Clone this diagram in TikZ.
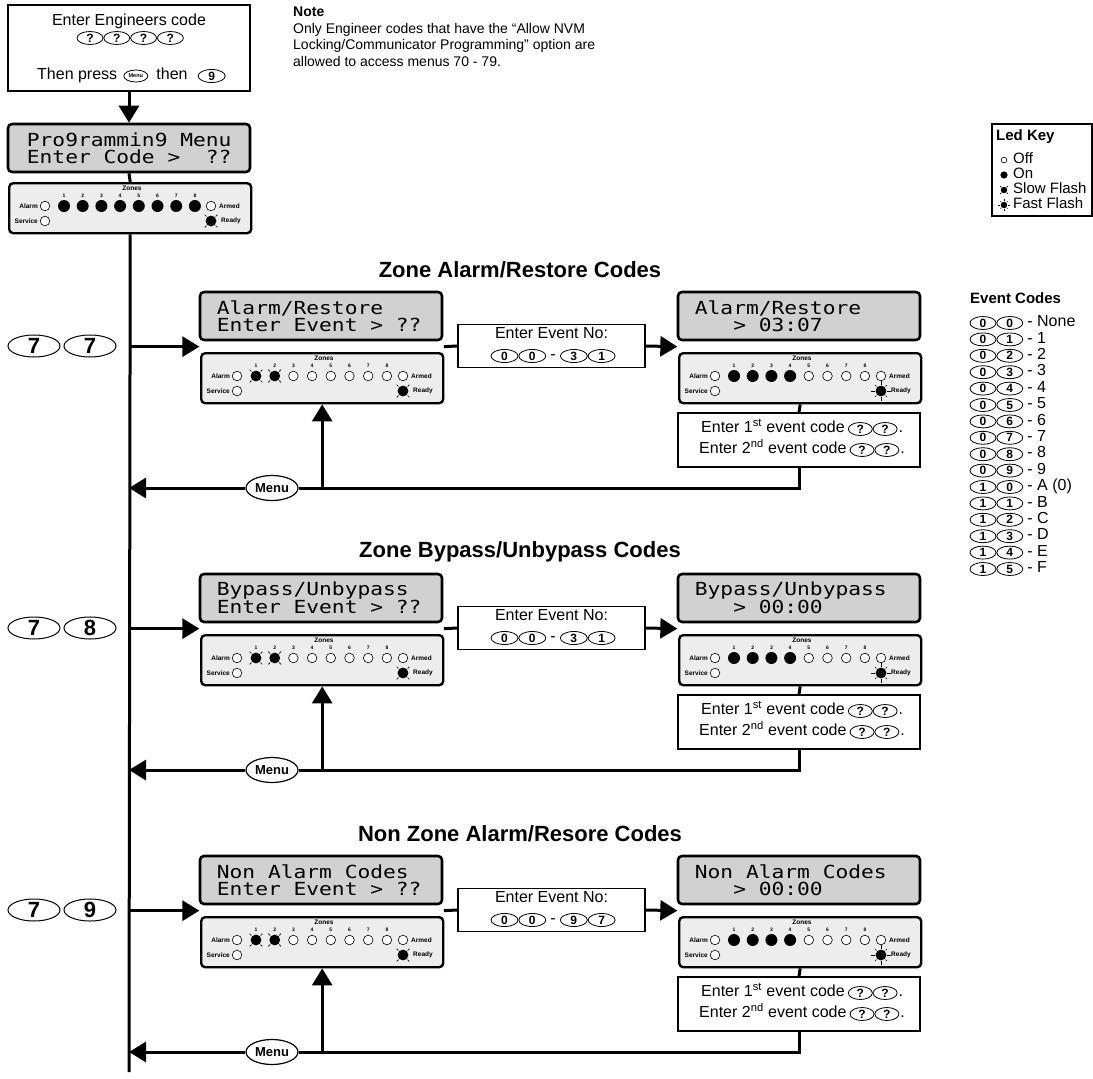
\documentclass[tikz,border=0pt]{standalone}
\usepackage{fontspec}
\setmainfont{Liberation Sans}
\setsansfont{Liberation Sans}
\setmonofont[FakeStretch=1.18]{DejaVu Sans Mono}
\usetikzlibrary{arrows.meta,positioning,shapes.geometric,calc}

\definecolor{lcdgrey}{gray}{0.82}
\definecolor{panelgrey}{gray}{0.93}

\newcommand{\fs}[1]{\fontsize{#1}{#1}\selectfont}

% LED symbols
\newcommand{\ledoff}[1]{\draw[line width=0.6pt, fill=white] #1 circle[radius=4.8pt];}
\newcommand{\ledon}[1]{\fill #1 circle[radius=6pt];}
\newcommand{\ledslow}[1]{%
  \fill #1 circle[radius=5.4pt];
  \foreach \rr in {45,135,225,315} {\draw[line width=0.7pt] #1 ++(\rr:6.4pt) -- ++(\rr:2.6pt);}}
\newcommand{\ledfast}[1]{%
  \fill #1 circle[radius=5.4pt];
  \foreach \rr in {0,90,180,270} {\draw[line width=0.8pt] #1 ++(\rr:6.4pt) -- ++(\rr:3.6pt);}
  \foreach \rr in {45,135,225,315} {\draw[line width=0.6pt] #1 ++(\rr:6.4pt) -- ++(\rr:2pt);}}

% keypad LED panel: name, top left corner, zones 1-8, Ready
\newcommand{\ledpanel}[4]{%
  \node[ledbox, anchor=north west] (#1) at #2 {};
  \node[paneltxt] (#1zones) at ($(#1.north west)+(124,6)$) {Zones};
  \foreach \st [count=\z] in {#3} {
    \node[numtxt] (#1n\z) at ($(#1.north west)+({37.3+18.7*\z},13.5)$) {\z};
    \csname led\st\endcsname{($(#1.north west)+({37.3+18.7*\z},24)$)}
  }
  \ledoff{($(#1.north west)+(37,24)$)}
  \ledoff{($(#1.north west)+(37,39)$)}
  \ledoff{($(#1.north west)+(203,24)$)}
  \csname led#4\endcsname{($(#1.north west)+(203,39)$)}
  \node[paneltxt, anchor=east] (#1alarm) at ($(#1.north west)+(30,24)$) {Alarm};
  \node[paneltxt, anchor=east] (#1service) at ($(#1.north west)+(30,39)$) {Service};
  \node[paneltxt, anchor=west] (#1armed) at ($(#1.north west)+(211,24)$) {Armed};
  \node[paneltxt, anchor=west] (#1ready) at ($(#1.north west)+(213,39)$) {Ready};
}

% one menu block: tag, y shift, title, left display, right display,
% right value, menu digit, last event number (two keys)
\newcommand{\progsection}[9]{%
  \node[secttitle] (title#1) at (520,{270+#2}) {#3};
  \node[lcd] (lcdL#1) at (321,{316+#2}) {};
  \node[lcdtxt] (lcdtL#1) at ($(lcdL#1.west)+(18,0)$) {#4\\Enter Event > ??};
  \ledpanel{ledL#1}{(200,{352+#2})}{slow,slow,off,off,off,off,off,off}{slow}
  \node[lcd] (lcdR#1) at (799,{316+#2}) {};
  \node[lcdtxt] (lcdtR#1) at ($(lcdR#1.west)+(18,0)$) {#5\\\hphantom{000}> #6};
  \ledpanel{ledR#1}{(678,{352+#2})}{on,on,on,on,off,off,off,off}{fast}
  % event number
  \node[txtbox, minimum width=187pt, minimum height=43pt] (ev#1) at (551.5,{346+#2}) {};
  \node[ln] (evt#1) at (551.5,{335+#2}) {Enter Event No:};
  \node[key] (eva#1) at (504.5,{356+#2}) {0};
  \node[key, right=0pt of eva#1] (evb#1) {0};
  \node[ln, right=4pt of evb#1] (evd#1) {-};
  \node[key, right=4pt of evd#1] (evc#1) {#8};
  \node[key, right=0pt of evc#1] (eve#1) {#9};
  % event codes
  \node[txtbox, minimum width=242pt, minimum height=54pt] (code#1) at (799,{440+#2}) {};
  \node[ln, anchor=west] (cfa#1) at (701,{429+#2}) {Enter 1\textsuperscript{st} event code};
  \node[key, minimum width=24pt, right=3pt of cfa#1] (cfb#1) {?};
  \node[key, minimum width=24pt, right=0pt of cfb#1] (cfc#1) {?};
  \node[ln, right=1pt of cfc#1] (cfd#1) {.};
  \node[ln, anchor=west] (csa#1) at (699,{450+#2}) {Enter 2\textsuperscript{nd} event code};
  \node[key, minimum width=24pt, right=3pt of csa#1] (csb#1) {?};
  \node[key, minimum width=24pt, right=0pt of csb#1] (csc#1) {?};
  \node[ln, right=1pt of csc#1] (csd#1) {.};
  % keys
  \node[bigkey] (ka#1) at (34,{346+#2}) {7};
  \node[bigkey, right=3pt of ka#1] (kb#1) {#7};
  \node[menukey] (menu#1) at (272,{488+#2}) {Menu};
  % connectors
  \coordinate (gl#1) at ($(lcdL#1.south west)!.5!(ledL#1.north west)$);
  \coordinate (gle#1) at ($(lcdL#1.south east)!.5!(ledL#1.north east)$);
  \coordinate (gr#1) at ($(lcdR#1.south west)!.5!(ledR#1.north west)$);
  \draw[arr] (toplcd |- gl#1) -- (gl#1);
  \draw[flow] (gle#1) -- (ev#1.west);
  \draw[arr] (ev#1.east) -- (gr#1);
  \draw[flow] (ledR#1.south) -- (code#1.north);
  \draw[flow] (code#1.south) |- (menu#1.east);
  \draw[arr] (menu#1.west) -- (toplcd |- menu#1);
  \draw[arr] (ledL#1.south |- menu#1) -- (ledL#1.south);
}

\begin{document}
\begin{tikzpicture}[x=1pt, y=-1pt,
    font=\fs{16},
    lcd/.style={draw, line width=2.6pt, rounded corners=4pt, fill=lcdgrey,
      minimum width=242pt, minimum height=48pt, inner sep=0pt},
    ledbox/.style={draw, line width=2.4pt, rounded corners=4pt, fill=panelgrey,
      minimum width=242pt, minimum height=50pt, inner sep=0pt},
    lcdtxt/.style={anchor=west, align=left, inner sep=0pt,
      font=\ttfamily\fontsize{18}{17}\selectfont},
    txtbox/.style={draw, line width=1.2pt, fill=white, inner sep=0pt},
    ln/.style={inner sep=0pt, text height=11pt, text depth=3.5pt},
    key/.style={ellipse, draw, line width=0.8pt, inner sep=0pt,
      minimum width=27pt, minimum height=13pt, font=\fs{12}\bfseries},
    bigkey/.style={key, line width=1pt, minimum width=52pt, minimum height=22pt,
      font=\fs{22}\bfseries},
    menukey/.style={key, line width=1.2pt, minimum width=52pt, minimum height=25pt,
      font=\fs{13}\bfseries},
    paneltxt/.style={inner sep=0pt, font=\fs{6.5}\bfseries},
    numtxt/.style={inner sep=0pt, font=\fs{5}\bfseries},
    secttitle/.style={inner sep=0pt, font=\fs{22}\bfseries},
    flow/.style={line width=3pt},
    arr/.style={flow, -{Triangle[length=17pt, width=20pt]}}
  ]
  \useasboundingbox (0,0) rectangle (1093,1079);

  % engineer code entry
  \node[txtbox, minimum width=242pt, minimum height=86pt] (engbox) at (129,48) {};
  \node[ln] (engtxt) at (129,22) {Enter Engineers code};
  \node[key, minimum width=26pt] (eq1) at (90,38) {?};
  \node[key, minimum width=26pt, right=0pt of eq1] (eq2) {?};
  \node[key, minimum width=26pt, right=0pt of eq2] (eq3) {?};
  \node[key, minimum width=26pt, right=0pt of eq3] (eq4) {?};
  \node[ln, anchor=west] (press) at (37,76) {Then press};
  \node[key, minimum width=24pt, minimum height=12pt, font=\fs{5.5}\bfseries,
    right=6pt of press] (menu0) {Menu};
  \node[ln, right=8pt of menu0] (then) {then};
  \node[key, right=10pt of then] (nine) {9};

  % programming menu display
  \node[lcd] (toplcd) at (129,148) {};
  \node[lcdtxt] (toplcdt) at ($(toplcd.west)+(20,0)$)
    {Pro9rammin9 Menu\\Enter Code >\hphantom{00}??};
  \ledpanel{topled}{(8,182)}{on,on,on,on,on,on,on,on}{slow}

  \coordinate (spineend) at (129,1072);
  \draw[arr] (engbox.south) -- (toplcd.north);
  \draw[flow] (toplcd.south) -- (topled.north);
  \draw[flow] (topled.south) -- (spineend);

  % note
  \node[anchor=north west, align=left, inner sep=0pt,
    font=\fontsize{14}{16.5}\selectfont] (note) at (293,7)
    {\textbf{Note}\\Only Engineer codes that have the “Allow NVM\\
     Locking/Communicator Programming” option are\\
     allowed to access menus 70 - 79.};

  % led key
  \node[txtbox, minimum width=100pt, minimum height=92pt] (ledkey) at (1042,170) {};
  \node[ln, anchor=west, font=\fs{15}\bfseries] (ledkeyt) at (996,137) {Led Key};
  \foreach \sta/\txt [count=\i] in {off/Off, on/On, slow/Slow Flash, fast/Fast Flash} {
    \begin{scope}[shift={(1004,{145+15*\i})}, scale=0.6]
      \csname led\sta\endcsname{(0,0)}
    \end{scope}
    \node[ln, anchor=west, font=\fs{15}] (lk\i) at (1013,{145+15*\i}) {\txt};
  }

  % event codes
  \node[ln, anchor=west, font=\fs{15}\bfseries] (evcodes) at (970,300) {Event Codes};
  \foreach \ka/\kb/\mean [count=\row from 0] in {0/0/None, 0/1/1, 0/2/2, 0/3/3,
      0/4/4, 0/5/5, 0/6/6, 0/7/7, 0/8/8, 0/9/9, 1/0/A (0), 1/1/B, 1/2/C, 1/3/D,
      1/4/E, 1/5/F} {
    \node[key, minimum width=26pt, minimum height=13pt] (eca\row) at (983,{323+16.4*\row}) {\ka};
    \node[key, minimum width=26pt, minimum height=13pt, right=0pt of eca\row] (ecb\row) {\kb};
    \node[ln, font=\fs{16}, right=4pt of ecb\row] (ect\row) {- \mean};
  }

  \progsection{A}{0}{Zone Alarm/Restore Codes}{Alarm/Restore}{Alarm/Restore}{03:07}{7}{3}{1}
  \progsection{B}{282}{Zone Bypass/Unbypass Codes}{Bypass/Unbypass}{Bypass/Unbypass}{00:00}{8}{3}{1}
  \progsection{C}{564}{Non Zone Alarm/Resore Codes}{Non Alarm Codes}{Non Alarm Codes}{00:00}{9}{9}{7}
\end{tikzpicture}
\end{document}
